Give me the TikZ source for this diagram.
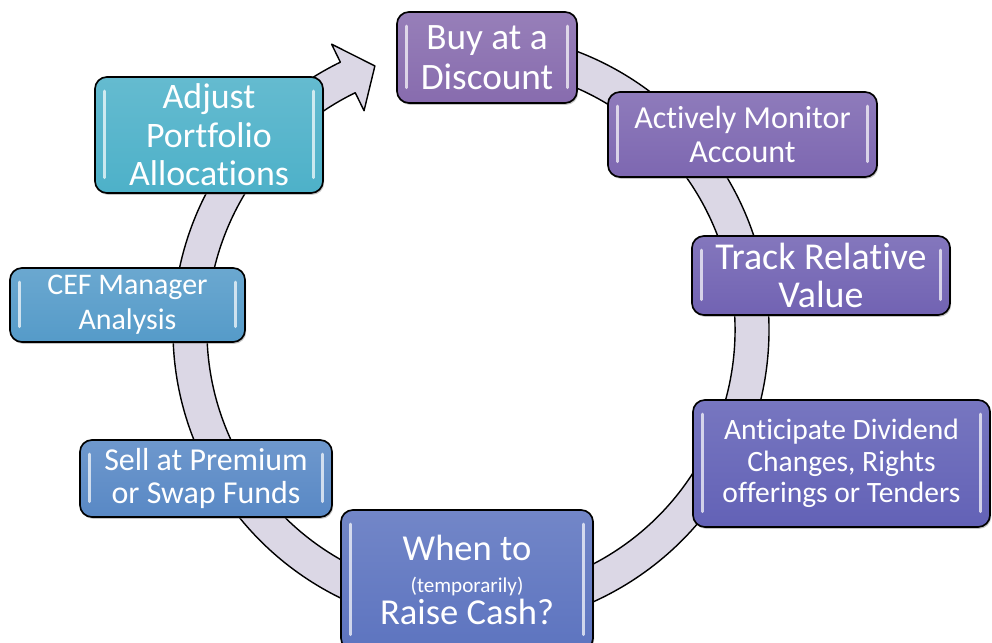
\documentclass[tikz,border=0pt]{standalone}
\usepackage{fontspec}
\setmainfont{Carlito}[Ligatures=NoCommon]
\usetikzlibrary{shadows}

\definecolor{ringfill}{RGB}{219,215,229}
\definecolor{cbuy}{RGB}{125,95,167}
\definecolor{cmon}{RGB}{114,90,170}
\definecolor{ctrack}{RGB}{101,85,172}
\definecolor{cdiv}{RGB}{85,84,176}
\definecolor{ccash}{RGB}{79,104,186}
\definecolor{csell}{RGB}{74,126,192}
\definecolor{ccef}{RGB}{70,146,196}
\definecolor{cadj}{RGB}{62,170,196}

\newcommand{\fs}[2]{\fontsize{#1}{#2}\selectfont}

\begin{document}
\begin{tikzpicture}[
        x=0.025cm, y=-0.025cm,
        stage/.style={draw=black, line width=1.2pt, rounded corners=0.3cm, text=white, align=center, inner sep=0pt,
            drop shadow={shadow xshift=0.8pt, shadow yshift=-1.3pt, opacity=.45},
            path picture={
                \draw[white, opacity=.7, line width=2.2pt, line cap=round]
                    ([shift={(6.5pt,-10pt)}]path picture bounding box.north west) -- ([shift={(6.5pt,11pt)}]path picture bounding box.south west)
                    ([shift={(-6.5pt,-10pt)}]path picture bounding box.north east) -- ([shift={(-6.5pt,11pt)}]path picture bounding box.south east);
            }},
        glass/.style={top color=#1!80!white, middle color=#1, bottom color=#1!92!white}
    ]
        \useasboundingbox (0,0) rectangle (992,643);
        \clip (0,0) rectangle (992,643);
        \fill[white] (0,0) rectangle (992,643);

        \begin{scope}[shift={(471,330)}, yscale=-1]
            \draw[fill=ringfill, line width=1pt, line join=round]
                (85:298) arc[start angle=85, end angle=-244, radius=298]
                -- (-244:318) -- (-250:281) -- (-244:244) -- (-244:264)
                arc[start angle=-244, end angle=85, radius=264] -- cycle;
        \end{scope}

        \node[stage, glass=cbuy, minimum width=4.5cm, minimum height=2.275cm, font=\fs{26.5}{28.5}] (buy) at (487,57.5) {Buy at a\\Discount};
        \node[stage, glass=cmon, minimum width=6.725cm, minimum height=2.125cm, font=\fs{22.8}{24.4}] (monitor) at (742.5,134.5) {Actively Monitor\\Account};
        \node[stage, glass=ctrack, minimum width=6.45cm, minimum height=1.975cm, font=\fs{27}{27.3}] (track) at (821,275.5) {Track Relative\\Value};
        \node[stage, glass=cdiv, minimum width=7.425cm, minimum height=3.175cm, font=\fs{21}{22.3}] (dividend) at (841.5,463.5) {Anticipate Dividend\\Changes, Rights\\offerings or Tenders};
        \node[stage, glass=ccash, minimum width=6.3cm, minimum height=3.5cm, font=\fs{26}{23}] (cash) at (467,580) {When to\\{\fs{15}{15}(temporarily)}\\Raise Cash?};
        \node[stage, glass=csell, minimum width=6.3cm, minimum height=1.925cm, font=\fs{22.7}{23.5}] (sell) at (206,478.5) {Sell at Premium\\or Swap Funds};
        \node[stage, glass=ccef, minimum width=5.875cm, minimum height=1.85cm, font=\fs{21.3}{24.9}] (cef) at (127.5,305) {CEF Manager\\Analysis};
        \node[stage, glass=cadj, minimum width=5.7cm, minimum height=2.9cm, font=\fs{25.5}{27.3}] (adjust) at (209,135) {Adjust\\Portfolio\\Allocations};
    \end{tikzpicture}
\end{document}
